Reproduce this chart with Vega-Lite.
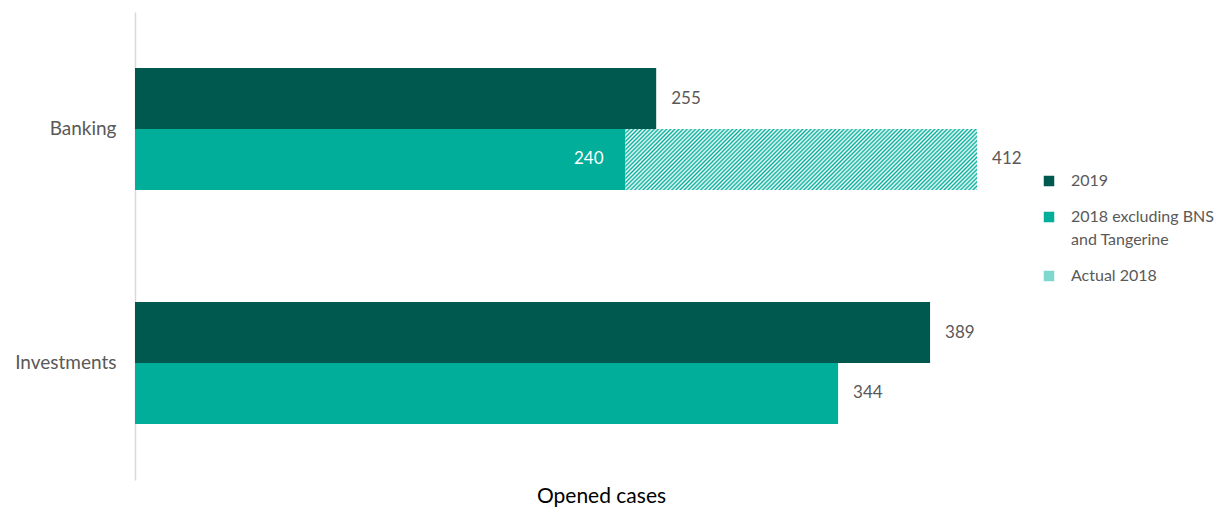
{
  "$schema": "https://vega.github.io/schema/vega-lite/v6.json",
  "width": 932,
  "height": 468,
  "autosize": {"type": "none"},
  "padding": {"left": 135, "top": 12, "right": 161, "bottom": 31},
  "background": "#ffffff",
  "config": {
    "view": {"stroke": null},
    "font": "Lato"
  },
  "data": {
    "values": [
      {"cat": "Banking", "row": "2019", "series": "2019", "start": 0, "end": 255},
      {"cat": "Banking", "row": "2018", "series": "2018 excluding BNS and Tangerine", "start": 0, "end": 240},
      {"cat": "Banking", "row": "2018", "series": "Actual 2018", "start": 240, "end": 412},
      {"cat": "Investments", "row": "2019", "series": "2019", "start": 0, "end": 389},
      {"cat": "Investments", "row": "2018", "series": "2018 excluding BNS and Tangerine", "start": 0, "end": 344}
    ]
  },
  "encoding": {
    "y": {
      "field": "cat", "type": "nominal", "sort": ["Banking", "Investments"],
      "scale": {"paddingInner": 0.479, "paddingOuter": 0.2395},
      "axis": {"title": null, "ticks": false, "labelFontSize": 19, "labelColor": "#595959", "labelPadding": 19, "domainColor": "#d9d9d9", "domainWidth": 1.5, "grid": false}
    },
    "yOffset": {"field": "row", "type": "nominal", "sort": ["2019", "2018"], "scale": {"paddingInner": 0, "paddingOuter": 0}}
  },
  "layer": [
    {
      "mark": {"type": "bar"},
      "encoding": {
        "x": {
          "field": "start", "type": "quantitative",
          "scale": {"domain": [0, 456], "nice": false},
          "axis": {"title": "Opened cases", "labels": false, "ticks": false, "domain": false, "grid": false, "titleFontSize": 21, "titleColor": "#000000", "titleFontWeight": "normal", "titlePadding": 5}
        },
        "x2": {"field": "end"},
        "color": {
          "field": "series", "type": "nominal",
          "scale": {"domain": ["2019", "2018 excluding BNS and Tangerine", "Actual 2018"], "range": ["#00594f", "#00ae9a", "#80d7cd"]},
          "legend": {
            "title": null, "orient": "none", "legendX": 906, "legendY": 161,
            "symbolType": "square", "symbolSize": 110, "symbolStrokeWidth": 0,
            "labelFontSize": 16, "labelColor": "#595959", "labelLimit": 300, "labelOffset": 14, "rowPadding": 20,
            "labelExpr": "datum.label == '2018 excluding BNS and Tangerine' ? ['2018 excluding BNS', 'and Tangerine'] : datum.label",
            "encode": {
              "labels": {"update": {"lineHeight": {"value": 23}}},
              "symbols": {
                "update": {
                  "fill": {
                    "condition": {"test": "datum.value === 'Actual 2018'", "value": {"gradient": "linear", "x1": 0, "y1": 0, "x2": 1, "y2": 1, "stops": [{"offset": 0, "color": "#00ae9a"}, {"offset": 0.1, "color": "#fff"}, {"offset": 0.2, "color": "#00ae9a"}, {"offset": 0.3, "color": "#fff"}, {"offset": 0.4, "color": "#00ae9a"}, {"offset": 0.5, "color": "#fff"}, {"offset": 0.6, "color": "#00ae9a"}, {"offset": 0.7, "color": "#fff"}, {"offset": 0.8, "color": "#00ae9a"}, {"offset": 0.9, "color": "#fff"}, {"offset": 1, "color": "#00ae9a"}]}},
                    "value": {"expr": "scale('color', datum.value)"}
                  }
                }
              }
            }
          }
        }
      }
    },
    {
      "transform": [{"filter": "datum.series == 'Actual 2018'"}],
      "mark": {
        "type": "bar",
        "fill": {"gradient": "linear", "x1": 0, "y1": 0, "x2": 1.1392, "y2": 0.1977, "stops": [
          {"offset":0,"color":"#00ae9a"},{"offset":0.005,"color":"#fff"},{"offset":0.01,"color":"#00ae9a"},{"offset":0.015,"color":"#fff"},{"offset":0.02,"color":"#00ae9a"},{"offset":0.025,"color":"#fff"},{"offset":0.03,"color":"#00ae9a"},{"offset":0.035,"color":"#fff"},{"offset":0.04,"color":"#00ae9a"},{"offset":0.045,"color":"#fff"},
          {"offset":0.05,"color":"#00ae9a"},{"offset":0.055,"color":"#fff"},{"offset":0.06,"color":"#00ae9a"},{"offset":0.065,"color":"#fff"},{"offset":0.07,"color":"#00ae9a"},{"offset":0.075,"color":"#fff"},{"offset":0.08,"color":"#00ae9a"},{"offset":0.085,"color":"#fff"},{"offset":0.09,"color":"#00ae9a"},{"offset":0.095,"color":"#fff"},
          {"offset":0.1,"color":"#00ae9a"},{"offset":0.105,"color":"#fff"},{"offset":0.11,"color":"#00ae9a"},{"offset":0.115,"color":"#fff"},{"offset":0.12,"color":"#00ae9a"},{"offset":0.125,"color":"#fff"},{"offset":0.13,"color":"#00ae9a"},{"offset":0.135,"color":"#fff"},{"offset":0.14,"color":"#00ae9a"},{"offset":0.145,"color":"#fff"},
          {"offset":0.15,"color":"#00ae9a"},{"offset":0.155,"color":"#fff"},{"offset":0.16,"color":"#00ae9a"},{"offset":0.165,"color":"#fff"},{"offset":0.17,"color":"#00ae9a"},{"offset":0.175,"color":"#fff"},{"offset":0.18,"color":"#00ae9a"},{"offset":0.185,"color":"#fff"},{"offset":0.19,"color":"#00ae9a"},{"offset":0.195,"color":"#fff"},
          {"offset":0.2,"color":"#00ae9a"},{"offset":0.205,"color":"#fff"},{"offset":0.21,"color":"#00ae9a"},{"offset":0.215,"color":"#fff"},{"offset":0.22,"color":"#00ae9a"},{"offset":0.225,"color":"#fff"},{"offset":0.23,"color":"#00ae9a"},{"offset":0.235,"color":"#fff"},{"offset":0.24,"color":"#00ae9a"},{"offset":0.245,"color":"#fff"},
          {"offset":0.25,"color":"#00ae9a"},{"offset":0.255,"color":"#fff"},{"offset":0.26,"color":"#00ae9a"},{"offset":0.265,"color":"#fff"},{"offset":0.27,"color":"#00ae9a"},{"offset":0.275,"color":"#fff"},{"offset":0.28,"color":"#00ae9a"},{"offset":0.285,"color":"#fff"},{"offset":0.29,"color":"#00ae9a"},{"offset":0.295,"color":"#fff"},
          {"offset":0.3,"color":"#00ae9a"},{"offset":0.305,"color":"#fff"},{"offset":0.31,"color":"#00ae9a"},{"offset":0.315,"color":"#fff"},{"offset":0.32,"color":"#00ae9a"},{"offset":0.325,"color":"#fff"},{"offset":0.33,"color":"#00ae9a"},{"offset":0.335,"color":"#fff"},{"offset":0.34,"color":"#00ae9a"},{"offset":0.345,"color":"#fff"},
          {"offset":0.35,"color":"#00ae9a"},{"offset":0.355,"color":"#fff"},{"offset":0.36,"color":"#00ae9a"},{"offset":0.365,"color":"#fff"},{"offset":0.37,"color":"#00ae9a"},{"offset":0.375,"color":"#fff"},{"offset":0.38,"color":"#00ae9a"},{"offset":0.385,"color":"#fff"},{"offset":0.39,"color":"#00ae9a"},{"offset":0.395,"color":"#fff"},
          {"offset":0.4,"color":"#00ae9a"},{"offset":0.405,"color":"#fff"},{"offset":0.41,"color":"#00ae9a"},{"offset":0.415,"color":"#fff"},{"offset":0.42,"color":"#00ae9a"},{"offset":0.425,"color":"#fff"},{"offset":0.43,"color":"#00ae9a"},{"offset":0.435,"color":"#fff"},{"offset":0.44,"color":"#00ae9a"},{"offset":0.445,"color":"#fff"},
          {"offset":0.45,"color":"#00ae9a"},{"offset":0.455,"color":"#fff"},{"offset":0.46,"color":"#00ae9a"},{"offset":0.465,"color":"#fff"},{"offset":0.47,"color":"#00ae9a"},{"offset":0.475,"color":"#fff"},{"offset":0.48,"color":"#00ae9a"},{"offset":0.485,"color":"#fff"},{"offset":0.49,"color":"#00ae9a"},{"offset":0.495,"color":"#fff"},
          {"offset":0.5,"color":"#00ae9a"},{"offset":0.505,"color":"#fff"},{"offset":0.51,"color":"#00ae9a"},{"offset":0.515,"color":"#fff"},{"offset":0.52,"color":"#00ae9a"},{"offset":0.525,"color":"#fff"},{"offset":0.53,"color":"#00ae9a"},{"offset":0.535,"color":"#fff"},{"offset":0.54,"color":"#00ae9a"},{"offset":0.545,"color":"#fff"},
          {"offset":0.55,"color":"#00ae9a"},{"offset":0.555,"color":"#fff"},{"offset":0.56,"color":"#00ae9a"},{"offset":0.565,"color":"#fff"},{"offset":0.57,"color":"#00ae9a"},{"offset":0.575,"color":"#fff"},{"offset":0.58,"color":"#00ae9a"},{"offset":0.585,"color":"#fff"},{"offset":0.59,"color":"#00ae9a"},{"offset":0.595,"color":"#fff"},
          {"offset":0.6,"color":"#00ae9a"},{"offset":0.605,"color":"#fff"},{"offset":0.61,"color":"#00ae9a"},{"offset":0.615,"color":"#fff"},{"offset":0.62,"color":"#00ae9a"},{"offset":0.625,"color":"#fff"},{"offset":0.63,"color":"#00ae9a"},{"offset":0.635,"color":"#fff"},{"offset":0.64,"color":"#00ae9a"},{"offset":0.645,"color":"#fff"},
          {"offset":0.65,"color":"#00ae9a"},{"offset":0.655,"color":"#fff"},{"offset":0.66,"color":"#00ae9a"},{"offset":0.665,"color":"#fff"},{"offset":0.67,"color":"#00ae9a"},{"offset":0.675,"color":"#fff"},{"offset":0.68,"color":"#00ae9a"},{"offset":0.685,"color":"#fff"},{"offset":0.69,"color":"#00ae9a"},{"offset":0.695,"color":"#fff"},
          {"offset":0.7,"color":"#00ae9a"},{"offset":0.705,"color":"#fff"},{"offset":0.71,"color":"#00ae9a"},{"offset":0.715,"color":"#fff"},{"offset":0.72,"color":"#00ae9a"},{"offset":0.725,"color":"#fff"},{"offset":0.73,"color":"#00ae9a"},{"offset":0.735,"color":"#fff"},{"offset":0.74,"color":"#00ae9a"},{"offset":0.745,"color":"#fff"},
          {"offset":0.75,"color":"#00ae9a"},{"offset":0.755,"color":"#fff"},{"offset":0.76,"color":"#00ae9a"},{"offset":0.765,"color":"#fff"},{"offset":0.77,"color":"#00ae9a"},{"offset":0.775,"color":"#fff"},{"offset":0.78,"color":"#00ae9a"},{"offset":0.785,"color":"#fff"},{"offset":0.79,"color":"#00ae9a"},{"offset":0.795,"color":"#fff"},
          {"offset":0.8,"color":"#00ae9a"},{"offset":0.805,"color":"#fff"},{"offset":0.81,"color":"#00ae9a"},{"offset":0.815,"color":"#fff"},{"offset":0.82,"color":"#00ae9a"},{"offset":0.825,"color":"#fff"},{"offset":0.83,"color":"#00ae9a"},{"offset":0.835,"color":"#fff"},{"offset":0.84,"color":"#00ae9a"},{"offset":0.845,"color":"#fff"},
          {"offset":0.85,"color":"#00ae9a"},{"offset":0.855,"color":"#fff"},{"offset":0.86,"color":"#00ae9a"},{"offset":0.865,"color":"#fff"},{"offset":0.87,"color":"#00ae9a"},{"offset":0.875,"color":"#fff"},{"offset":0.88,"color":"#00ae9a"},{"offset":0.885,"color":"#fff"},{"offset":0.89,"color":"#00ae9a"},{"offset":0.895,"color":"#fff"},
          {"offset":0.9,"color":"#00ae9a"},{"offset":0.905,"color":"#fff"},{"offset":0.91,"color":"#00ae9a"},{"offset":0.915,"color":"#fff"},{"offset":0.92,"color":"#00ae9a"},{"offset":0.925,"color":"#fff"},{"offset":0.93,"color":"#00ae9a"},{"offset":0.935,"color":"#fff"},{"offset":0.94,"color":"#00ae9a"},{"offset":0.945,"color":"#fff"},
          {"offset":0.95,"color":"#00ae9a"},{"offset":0.955,"color":"#fff"},{"offset":0.96,"color":"#00ae9a"},{"offset":0.965,"color":"#fff"},{"offset":0.97,"color":"#00ae9a"},{"offset":0.975,"color":"#fff"},{"offset":0.98,"color":"#00ae9a"},{"offset":0.985,"color":"#fff"},{"offset":0.99,"color":"#00ae9a"},{"offset":0.995,"color":"#fff"},
          {"offset":1,"color":"#00ae9a"}
        ]}
      },
      "encoding": {
        "x": {"field": "start", "type": "quantitative"},
        "x2": {"field": "end"}
      }
    },
    {
      "transform": [{"filter": "!(datum.cat == 'Banking' && datum.series == '2018 excluding BNS and Tangerine')"}],
      "mark": {"type": "text", "align": "left", "baseline": "middle", "dx": 15, "fontSize": 17, "color": "#595959"},
      "encoding": {
        "x": {"field": "end", "type": "quantitative"},
        "text": {"field": "end", "type": "quantitative"}
      }
    },
    {
      "transform": [{"filter": "datum.cat == 'Banking' && datum.series == '2018 excluding BNS and Tangerine'"}],
      "mark": {"type": "text", "align": "right", "baseline": "middle", "dx": -22, "fontSize": 17, "color": "#ffffff"},
      "encoding": {
        "x": {"field": "end", "type": "quantitative"},
        "text": {"field": "end", "type": "quantitative"}
      }
    }
  ]
}
